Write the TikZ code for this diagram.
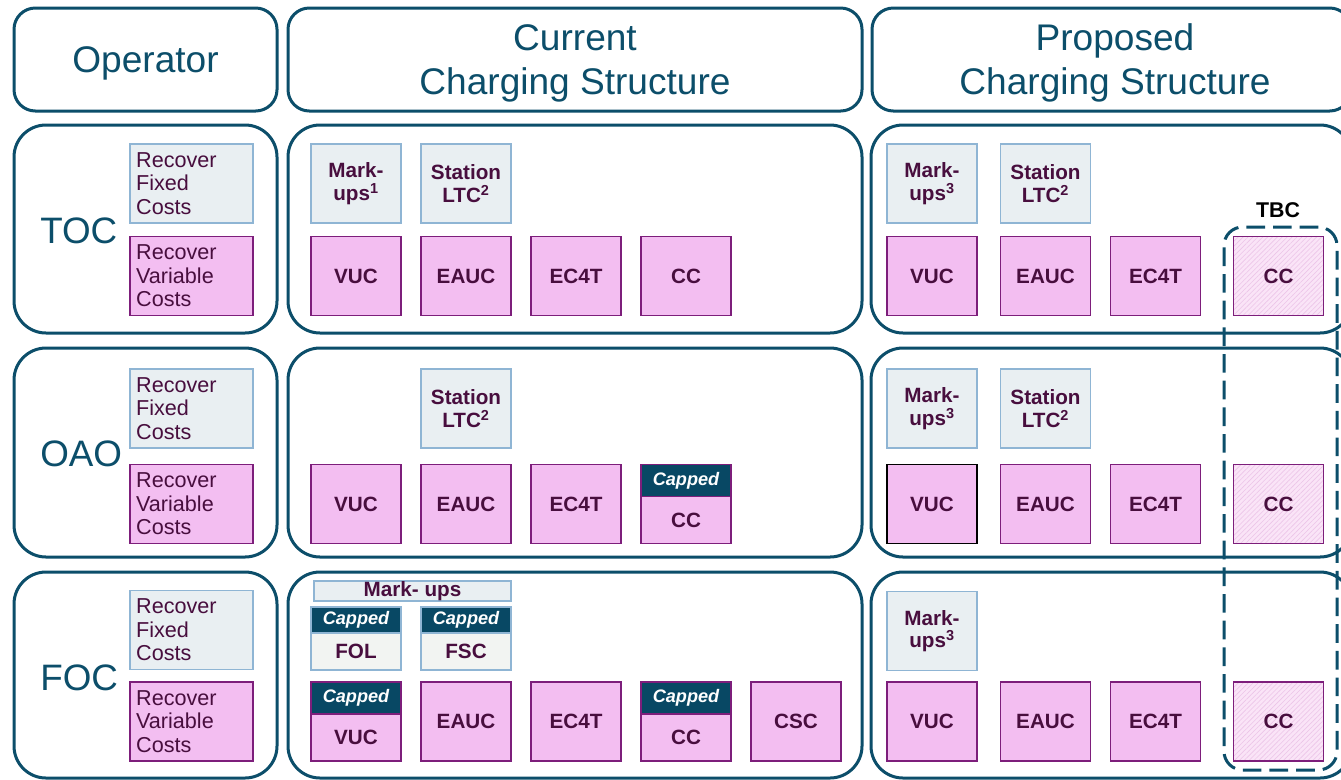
\documentclass[tikz,border=0pt]{standalone}
\usepackage{fontspec}
\setmainfont{Liberation Sans}
\usetikzlibrary{patterns.meta}
\definecolor{frame}{RGB}{12,78,106}
\definecolor{capfill}{RGB}{8,72,100}
\definecolor{fixfill}{RGB}{233,239,242}
\definecolor{fixline}{RGB}{143,181,212}
\definecolor{lightfill}{RGB}{242,244,242}
\definecolor{varfill}{RGB}{243,190,241}
\definecolor{varline}{RGB}{125,30,123}
\definecolor{labeltext}{RGB}{72,14,62}
\definecolor{tbcfill}{RGB}{250,228,247}
\definecolor{hatchcol}{RGB}{236,196,232}
\begin{document}
\begin{tikzpicture}[x=0.75pt,y=-0.75pt,
  headbox/.style={draw=frame, line width=2.25pt, rounded corners=16pt,
    minimum height=77.25pt, inner sep=0pt},
  headtext/.style={text=frame, inner sep=0pt, align=center,
    font=\fontsize{27.8}{33}\selectfont},
  rowbox/.style={draw=frame, line width=2.25pt, rounded corners=24pt, inner sep=0pt},
  rowlabel/.style={text=frame, font=\fontsize{27.6}{33}\selectfont, anchor=west, inner sep=0pt},
  costbox/.style={minimum height=59.25pt, text width=83pt, inner xsep=4.6pt,
    inner ysep=0pt, line width=1.1pt, align=left, text=labeltext,
    font=\fontsize{16.2}{17.7}\selectfont},
  fixedbox/.style={costbox, fill=fixfill, draw=fixline},
  varbox/.style={costbox, fill=varfill, draw=varline},
  chip/.style={minimum width=67.5pt, minimum height=59.25pt, inner sep=0pt,
    line width=1.1pt, align=center, text=labeltext,
    font=\bfseries\fontsize{15.5}{17}\selectfont},
  fixchip/.style={chip, fill=fixfill, draw=fixline},
  varchip/.style={chip, fill=varfill, draw=varline},
  tbcchip/.style={chip, draw=varline, preaction={fill=tbcfill},
    pattern={Lines[angle=45, distance=2.6pt, line width=0.45pt]}, pattern color=hatchcol},
  capbar/.style={fill=capfill, inner sep=0pt, minimum width=67.5pt, line width=1.1pt,
    text=white, font=\bfseries\itshape\fontsize{13.6}{15}\selectfont},
  chiplabel/.style={inner sep=0pt, text=labeltext, font=\bfseries\fontsize{15.5}{17}\selectfont},
]
\fill[white] (0,0) rectangle (1341,779);
\useasboundingbox (0,0) rectangle (1341,779);

% column headers
\node[headbox, minimum width=197.25pt] (hop) at (145.5,59.5) {};
\node[headbox, minimum width=430.5pt] (hcur) at (575,59.5) {};
\node[headbox, minimum width=359.25pt] (hpro) at (1111.5,59.5) {};
\node[headtext] (hopt) at (145.5,63) {Operator};
\node[headtext] (hcurt) at (575,63) {Current\\Charging Structure};
\node[headtext] (hprot) at (1115,63) {Proposed\\Charging Structure};

% row frames
\node[rowbox, minimum width=197.25pt, minimum height=156pt] (opA) at (145.5,229) {};
\node[rowbox, minimum width=430.5pt, minimum height=156pt] (curA) at (575,229) {};
\node[rowbox, minimum width=360.75pt, minimum height=156pt] (proA) at (1111.5,229) {};
\node[rowbox, minimum width=197.25pt, minimum height=156.75pt] (opB) at (145.5,452.5) {};
\node[rowbox, minimum width=430.5pt, minimum height=156.75pt] (curB) at (575,452.5) {};
\node[rowbox, minimum width=360.75pt, minimum height=156.75pt] (proB) at (1111.5,452.5) {};
\node[rowbox, minimum width=197.25pt, minimum height=154.5pt] (opC) at (145.5,675) {};
\node[rowbox, minimum width=430.5pt, minimum height=154.5pt] (curC) at (575,675) {};
\node[rowbox, minimum width=360.75pt, minimum height=154.5pt] (proC) at (1111.5,675) {};

% operator column
\node[rowlabel] (toc) at (40,231) {TOC};
\node[rowlabel] (oao) at (40,454) {OAO};
\node[rowlabel] (foc) at (40,678) {FOC};
\node[fixedbox] (fixA) at (191.5,183.5) {Recover\\Fixed\\Costs};
\node[varbox] (varA) at (191.5,276) {Recover\\Variable\\Costs};
\node[fixedbox] (fixB) at (191.5,408.5) {Recover\\Fixed\\Costs};
\node[varbox] (varB) at (191.5,504) {Recover\\Variable\\Costs};
\node[fixedbox] (fixC) at (191.5,630) {Recover\\Fixed\\Costs};
\node[varbox] (varC) at (191.5,721.5) {Recover\\Variable\\Costs};

% TOC, current
\node[fixchip] (cAmk) at (356,183.5) {Mark-\\ups\textsuperscript{1}};
\node[fixchip] (cAst) at (466,183.5) {Station\\LTC\textsuperscript{2}};
\node[varchip] (cAvuc) at (356,276) {VUC};
\node[varchip] (cAeauc) at (466,276) {EAUC};
\node[varchip] (cAec) at (576,276) {EC4T};
\node[varchip] (cAcc) at (686,276) {CC};

% TOC, proposed
\node[fixchip] (pAmk) at (932,183.5) {Mark-\\ups\textsuperscript{3}};
\node[fixchip] (pAst) at (1045.5,183.5) {Station\\LTC\textsuperscript{2}};
\node[varchip] (pAvuc) at (932,276) {VUC};
\node[varchip] (pAeauc) at (1045.5,276) {EAUC};
\node[varchip] (pAec) at (1155.5,276) {EC4T};
\node[tbcchip] (pAcc) at (1278.5,276) {CC};

% OAO, current
\node[fixchip] (cBst) at (466,408.5) {Station\\LTC\textsuperscript{2}};
\node[varchip] (cBvuc) at (356,504) {VUC};
\node[varchip] (cBeauc) at (466,504) {EAUC};
\node[varchip] (cBec) at (576,504) {EC4T};
\node[varchip] (cBcc) at (686,504) {};
\node[capbar, draw=varline, minimum height=24pt, anchor=north] (cBcch) at (cBcc.north) {Capped};
\node[chiplabel] (cBccl) at (686,520.5) {CC};

% OAO, proposed
\node[fixchip] (pBmk) at (932,408.5) {Mark-\\ups\textsuperscript{3}};
\node[fixchip] (pBst) at (1045.5,408.5) {Station\\LTC\textsuperscript{2}};
\node[varchip, draw=black] (pBvuc) at (932,504) {VUC};
\node[varchip] (pBeauc) at (1045.5,504) {EAUC};
\node[varchip] (pBec) at (1155.5,504) {EC4T};
\node[tbcchip] (pBcc) at (1278.5,504) {CC};

% FOC, current
\node[fixchip, minimum width=147.75pt, minimum height=15pt] (cCmk) at (412.5,591) {Mark- ups};
\node[chip, fill=lightfill, draw=fixline, minimum height=47.25pt] (cCfol) at (356,638.5) {};
\node[capbar, draw=fixline, minimum height=19.5pt, anchor=north] (cCfolh) at (cCfol.north) {Capped};
\node[chiplabel] (cCfoll) at (356,651.5) {FOL};
\node[chip, fill=lightfill, draw=fixline, minimum height=47.25pt] (cCfsc) at (466,638.5) {};
\node[capbar, draw=fixline, minimum height=19.5pt, anchor=north] (cCfsch) at (cCfsc.north) {Capped};
\node[chiplabel] (cCfscl) at (466,651.5) {FSC};
\node[varchip] (cCvuc) at (356,721.5) {};
\node[capbar, draw=varline, minimum height=24pt, anchor=north] (cCvuch) at (cCvuc.north) {Capped};
\node[chiplabel] (cCvucl) at (356,737.5) {VUC};
\node[varchip] (cCeauc) at (466,721.5) {EAUC};
\node[varchip] (cCec) at (576,721.5) {EC4T};
\node[varchip] (cCcc) at (686,721.5) {};
\node[capbar, draw=varline, minimum height=24pt, anchor=north] (cCcch) at (cCcc.north) {Capped};
\node[chiplabel] (cCccl) at (686,737.5) {CC};
\node[varchip] (cCcsc) at (796,721.5) {CSC};

% FOC, proposed
\node[fixchip] (pCmk) at (932,631) {Mark-\\ups\textsuperscript{3}};
\node[varchip] (pCvuc) at (932,721.5) {VUC};
\node[varchip] (pCeauc) at (1045.5,721.5) {EAUC};
\node[varchip] (pCec) at (1155.5,721.5) {EC4T};
\node[tbcchip] (pCcc) at (1278.5,721.5) {CC};

% to-be-confirmed group
\node[draw=frame, line width=2.25pt, dash pattern=on 14pt off 6pt, rounded corners=14pt,
  minimum width=84.75pt, minimum height=407.25pt, inner sep=0pt] (tbc) at (1280.5,498.5) {};
\node[inner sep=0pt, font=\bfseries\fontsize{16}{18}\selectfont] (tbcl) at (1278,210) {TBC};
\end{tikzpicture}
\end{document}
